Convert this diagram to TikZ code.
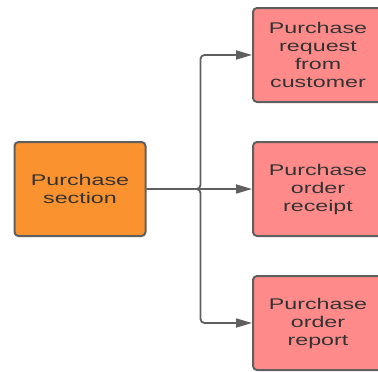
\documentclass[tikz,border=0pt]{standalone}
\usepackage{fontspec}
\setmainfont{Liberation Sans}[FakeStretch=1.5]
\usetikzlibrary{arrows.meta}

\definecolor{sectionOrange}{HTML}{FA932F}
\definecolor{itemPink}{HTML}{FF8A8A}
\definecolor{edgeGray}{HTML}{5F5F5F}
\definecolor{textGray}{HTML}{333333}

\tikzset{
    procbox/.style={draw=edgeGray, line width=2pt, rounded corners=4pt,
        text=textGray, align=center, font=\fontsize{15.5}{18}\selectfont,
        minimum height=94pt, inner sep=0pt},
    sectionbox/.style={procbox, fill=sectionOrange, minimum width=131pt},
    itembox/.style={procbox, fill=itemPink, minimum width=130pt},
    link/.style={draw=edgeGray, line width=1.8pt, rounded corners=4pt,
        -{Triangle[length=16pt, width=9pt]}}
}

\begin{document}
\begin{tikzpicture}[x=1pt, y=-1pt]
    \useasboundingbox (0,0) rectangle (378,372);

    % Define the positions of the boxes
    \coordinate (sectionPos) at (80, 189);
    \coordinate (requestPos) at (318, 55);
    \coordinate (receiptPos) at (318, 189);
    \coordinate (reportPos) at (318, 323);

    % Draw the boxes
    \node[sectionbox] (section) at (sectionPos) {Purchase\\section};
    \node[itembox] (request) at (requestPos) {Purchase\\request\\from\\customer};
    \node[itembox] (receipt) at (receiptPos) {Purchase\\order\\receipt};
    \node[itembox] (report) at (reportPos) {Purchase\\order\\report};

    % Draw the connectors, split at one vertical trunk
    \draw[link] (section.east) -- ++(54,0) |- (request.west);
    \draw[link] (section.east) -- (receipt.west);
    \draw[link] (section.east) -- ++(54,0) |- (report.west);
\end{tikzpicture}
\end{document}
